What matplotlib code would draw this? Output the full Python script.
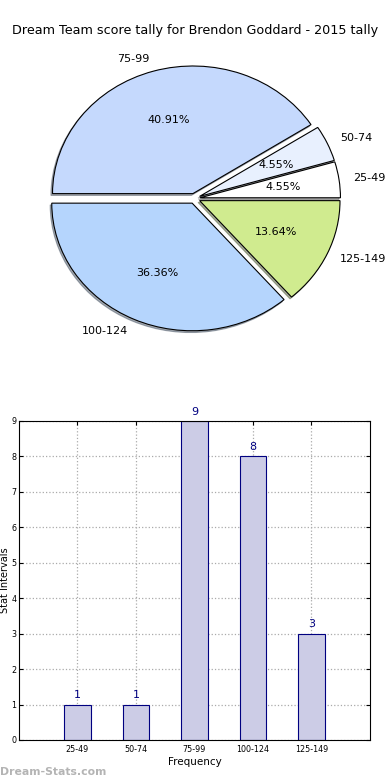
import matplotlib
matplotlib.use("Agg")
import matplotlib.pyplot as plt

# data
intervals = ["25-49", "50-74", "75-99", "100-124", "125-149"]
counts = [1, 1, 9, 8, 3]
pie_colors = ["#ffffff", "#e8f0fe", "#c5d9fd", "#b5d5fd", "#d0eb8f"]
title = "Dream Team score tally for Brendon Goddard - 2015 tally"

fig = plt.figure(figsize=(3.9, 7.8), dpi=100)

# pie chart
ax1 = fig.add_axes([0.0487, 0.541, 0.9, 0.409])
ax1.pie(counts, labels=intervals, colors=pie_colors, autopct="%1.2f%%",
        explode=[0.04] * len(counts), startangle=0,
        shadow={"ox": -0.008, "oy": -0.01, "shade": 0.6},
        wedgeprops={"edgecolor": "black", "linewidth": 0.8},
        textprops={"fontsize": 8})
ax1.set_aspect("auto")
ax1.set_xlim(-1.25, 1.25)
ax1.set_ylim(-1.25, 1.25)
fig.text(0.5, 0.961, title, ha="center", va="center", fontsize=9.2)

# bar chart
ax2 = fig.add_axes([0.0487, 0.0513, 0.9, 0.409])
xs = list(range(1, len(counts) + 1))
ax2.bar(xs, counts, width=0.45, color="#cccce6", edgecolor="navy", linewidth=0.8, zorder=2)
for x, c in zip(xs, counts):
    ax2.text(x, c + 0.12, str(c), ha="center", va="bottom", color="navy", fontsize=8)
ax2.set_xlim(0, 6)
ax2.set_ylim(0, 9)
ax2.set_xticks(xs)
ax2.set_xticklabels(intervals)
ax2.set_yticks(range(0, 10))
ax2.tick_params(labelsize=5.8, direction="in", top=True, right=True, length=3)
ax2.tick_params(axis="y", pad=2)
ax2.grid(True, linestyle=":", color="#aaaaaa", linewidth=0.9, zorder=1)
ax2.set_xlabel("Frequency", fontsize=7.5, labelpad=2)
ax2.set_ylabel("Stat Intervals", fontsize=7)
ax2.yaxis.set_label_coords(-0.027, 0.5)

fig.text(0.0, 0.006, "Dream-Stats.com", color="#b4b4b4", fontsize=7.8, fontweight="bold")

fig.savefig("out.png", dpi=100)
